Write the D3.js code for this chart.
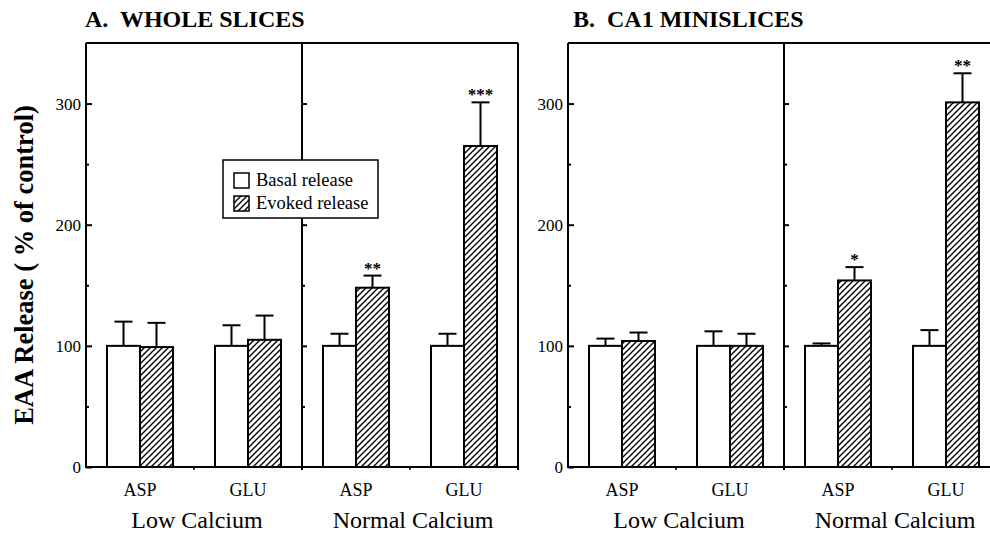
<!DOCTYPE html>
<html>
<head>
<meta charset="utf-8">
<script src="https://cdn.jsdelivr.net/npm/d3@7"></script>
<style>
  body { margin: 0; background: #fff; }
  svg text { font-family: "Liberation Serif", "Times New Roman", serif; fill: #000; }
  .axis path, .axis line { stroke: #000; stroke-width: 2; }
</style>
</head>
<body>
<div id="chart"></div>
<script>
// data (order: Low ASP, Low GLU, Normal ASP, Normal GLU)
var panelTitles = ["A.  WHOLE SLICES", "B.  CA1 MINISLICES"];
var conditions = ["Low Calcium", "Normal Calcium"];
var acids = ["ASP", "GLU"];
var seriesNames = ["Basal release", "Evoked release"];
var yTicks = [0, 100, 200, 300];
var yMinor = [50, 150, 250];

var wholeBasal = [100, 100, 100, 100];
var wholeBasalErr = [20, 17, 10, 10];
var wholeEvoked = [99, 105, 148, 265];
var wholeEvokedErr = [20, 20, 10, 36];
var wholeStars = ["", "", "**", "***"];

var miniBasal = [100, 100, 100, 100];
var miniBasalErr = [6, 12, 2, 13];
var miniEvoked = [104, 100, 154, 301];
var miniEvokedErr = [7, 10, 11, 24];
var miniStars = ["", "", "*", "**"];

var panels = [
    { title: panelTitles[0], left: 86, titleX: 85, basal: wholeBasal, basalErr: wholeBasalErr, evoked: wholeEvoked, evokedErr: wholeEvokedErr, stars: wholeStars, legend: true },
    { title: panelTitles[1], left: 568, titleX: 573, basal: miniBasal, basalErr: miniBasalErr, evoked: miniEvoked, evokedErr: miniEvokedErr, stars: miniStars, legend: false }
];

var W = 990, H = 535;
var top0 = 43, bottom0 = 467;
var panelWidth = 432;
var barW = 33;
var serif = "Liberation Serif, Times New Roman, serif";

var svg = d3.select("#chart")
    .append("svg")
    .attr("width", W)
    .attr("height", H)
    .attr("font-family", serif)
    .style("background", "#fff");

// hatch for evoked release
svg.append("defs").append("pattern")
    .attr("id", "hatch")
    .attr("patternUnits", "userSpaceOnUse")
    .attr("width", 6)
    .attr("height", 6)
    .append("path")
    .attr("d", "M0,6 L6,0 M-1,1 L1,-1 M5,7 L7,5")
    .attr("stroke", "#000")
    .attr("stroke-width", 1.4);

var y = d3.scaleLinear()
    .domain([0, 350])
    .range([bottom0, top0]);

panels.forEach(function (p) {
    var g = svg.append("g");

    var xCond = d3.scaleBand()
        .domain(conditions)
        .range([p.left, p.left + panelWidth]);
    var xAcid = d3.scaleBand()
        .domain(acids)
        .range([0, xCond.bandwidth()]);

    var rows = [];
    conditions.forEach(function (c, ci) {
        acids.forEach(function (a, ai) {
            var i = ci * 2 + ai;
            rows.push({
                cond: c, acid: a,
                cx: xCond(c) + xAcid(a) + xAcid.bandwidth() / 2,
                basal: p.basal[i], basalErr: p.basalErr[i],
                evoked: p.evoked[i], evokedErr: p.evokedErr[i],
                star: p.stars[i]
            });
        });
    });

    // title
    g.append("text")
        .attr("x", p.titleX)
        .attr("y", 27)
        .attr("font-size", 24)
        .attr("font-weight", "bold")
        .style("white-space", "pre")
        .text(p.title);

    // frame top and right
    g.append("line")
        .attr("x1", p.left).attr("x2", p.left + panelWidth)
        .attr("y1", top0).attr("y2", top0)
        .attr("stroke", "#000").attr("stroke-width", 2);
    g.append("line")
        .attr("x1", p.left + panelWidth).attr("x2", p.left + panelWidth)
        .attr("y1", top0).attr("y2", bottom0 + 3)
        .attr("stroke", "#000").attr("stroke-width", 2);

    // bottom line with small ticks between groups
    g.append("line")
        .attr("x1", p.left).attr("x2", p.left + panelWidth)
        .attr("y1", bottom0).attr("y2", bottom0)
        .attr("stroke", "#000").attr("stroke-width", 2);
    conditions.forEach(function (c) {
        g.append("line")
            .attr("x1", xCond(c) + xAcid.step()).attr("x2", xCond(c) + xAcid.step())
            .attr("y1", bottom0).attr("y2", bottom0 + 3)
            .attr("stroke", "#000").attr("stroke-width", 1.5);
    });

    // left y axis
    g.append("g")
        .attr("class", "axis")
        .attr("transform", "translate(" + p.left + ",0)")
        .call(d3.axisLeft(y).tickValues(yTicks).tickSize(-6).tickPadding(5).tickSizeOuter(0))
        .call(function (ax) {
            ax.attr("font-family", serif);
            ax.select(".domain").attr("d", "M0," + top0 + "V" + (bottom0 + 1));
            ax.selectAll("text").attr("font-size", 17);
        });
    g.append("g")
        .attr("class", "axis")
        .attr("transform", "translate(" + p.left + ",0)")
        .call(d3.axisLeft(y).tickValues(yMinor).tickSize(-3).tickFormat("").tickSizeOuter(0))
        .call(function (ax) { ax.select(".domain").remove(); });

    // divider between calcium conditions
    var divX = xCond(conditions[1]);
    g.append("g")
        .attr("class", "axis")
        .attr("transform", "translate(" + divX + ",0)")
        .call(d3.axisRight(y).tickValues(yTicks.slice(1)).tickSize(5).tickFormat("").tickSizeOuter(0))
        .call(function (ax) {
            ax.select(".domain").attr("d", "M0," + top0 + "V" + (bottom0 + 3));
        });
    g.append("g")
        .attr("class", "axis")
        .attr("transform", "translate(" + divX + ",0)")
        .call(d3.axisRight(y).tickValues(yMinor).tickSize(3).tickFormat("").tickSizeOuter(0))
        .call(function (ax) { ax.select(".domain").remove(); });

    // bars
    var bars = g.selectAll(".grp")
        .data(rows)
        .enter().append("g")
        .attr("class", "grp");

    bars.append("rect")
        .attr("x", function (d) { return d.cx - barW; })
        .attr("y", function (d) { return y(d.basal); })
        .attr("width", barW)
        .attr("height", function (d) { return bottom0 - y(d.basal); })
        .attr("fill", "#fff")
        .attr("stroke", "#000")
        .attr("stroke-width", 2);

    bars.append("rect")
        .attr("x", function (d) { return d.cx; })
        .attr("y", function (d) { return y(d.evoked); })
        .attr("width", barW)
        .attr("height", function (d) { return bottom0 - y(d.evoked); })
        .attr("fill", "url(#hatch)")
        .attr("stroke", "#000")
        .attr("stroke-width", 2);

    // error bars (upper only)
    function errBar(sel, off, val, err) {
        sel.append("line")
            .attr("x1", function (d) { return d.cx + off; })
            .attr("x2", function (d) { return d.cx + off; })
            .attr("y1", function (d) { return y(d[val]); })
            .attr("y2", function (d) { return y(d[val] + d[err]); })
            .attr("stroke", "#000").attr("stroke-width", 2);
        sel.append("line")
            .attr("x1", function (d) { return d.cx + off - 9; })
            .attr("x2", function (d) { return d.cx + off + 9; })
            .attr("y1", function (d) { return y(d[val] + d[err]); })
            .attr("y2", function (d) { return y(d[val] + d[err]); })
            .attr("stroke", "#000").attr("stroke-width", 2);
    }
    errBar(bars, -barW / 2, "basal", "basalErr");
    errBar(bars, barW / 2, "evoked", "evokedErr");

    // significance stars
    bars.append("text")
        .attr("x", function (d) { return d.cx + barW / 2; })
        .attr("y", function (d) { return y(d.evoked + d.evokedErr) - 2; })
        .attr("text-anchor", "middle")
        .attr("font-size", 17)
        .attr("font-weight", "bold")
        .text(function (d) { return d.star; });

    // category labels
    bars.append("text")
        .attr("x", function (d) { return d.cx; })
        .attr("y", 496)
        .attr("text-anchor", "middle")
        .attr("font-size", 18)
        .text(function (d) { return d.acid; });

    g.selectAll(".cond")
        .data(conditions)
        .enter().append("text")
        .attr("class", "cond")
        .attr("x", function (d) { return xCond(d) + xCond.bandwidth() / 2 + 3; })
        .attr("y", 528)
        .attr("text-anchor", "middle")
        .attr("font-size", 24)
        .text(function (d) { return d; });

    // legend
    if (p.legend) {
        var lg = g.append("g").attr("transform", "translate(223,160)");
        lg.append("rect")
            .attr("width", 155).attr("height", 58)
            .attr("fill", "#fff")
            .attr("stroke", "#000").attr("stroke-width", 1.5);
        seriesNames.forEach(function (s, i) {
            lg.append("rect")
                .attr("x", 11).attr("y", 13 + i * 23)
                .attr("width", 15).attr("height", 15)
                .attr("fill", i == 0 ? "#fff" : "url(#hatch)")
                .attr("stroke", "#000").attr("stroke-width", 1.5);
            lg.append("text")
                .attr("x", 33).attr("y", 26 + i * 23)
                .attr("font-size", 18.5)
                .text(s);
        });
    }
});

// y axis title
svg.append("text")
    .attr("transform", "translate(33,265) rotate(-90)")
    .attr("text-anchor", "middle")
    .attr("font-size", 26.5)
    .attr("font-weight", "bold")
    .text("EAA Release ( % of control)");
</script>
</body>
</html>
